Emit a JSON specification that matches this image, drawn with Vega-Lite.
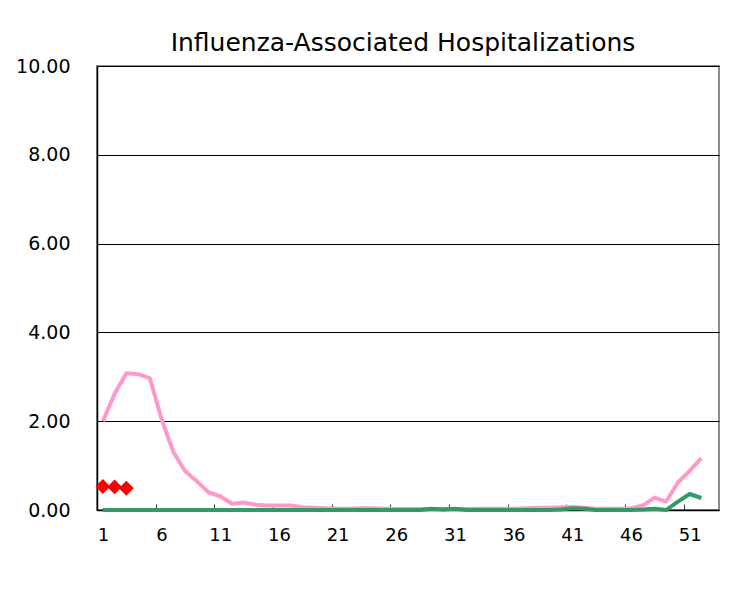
{
  "$schema": "https://vega.github.io/schema/vega-lite/v6.json",
  "width": 622,
  "height": 444,
  "autosize": "none",
  "padding": {"left": 97, "top": 66, "right": 29, "bottom": 81},
  "background": "white",
  "config": {
    "font": "DejaVu Sans",
    "view": {"stroke": "#8c8c8c", "strokeWidth": 2},
    "axis": {"labelFont": "DejaVu Sans", "labelColor": "#000000"}
  },
  "title": {
    "text": "Influenza-Associated Hospitalizations",
    "font": "DejaVu Sans",
    "fontSize": 25,
    "fontWeight": "normal",
    "color": "#000000",
    "anchor": "middle",
    "frame": "group",
    "offset": 1,
    "dx": -5
  },
  "data": {
    "values": [
      {"week": 1, "series": "pink", "value": 2.00},
      {"week": 2, "series": "pink", "value": 2.62},
      {"week": 3, "series": "pink", "value": 3.08},
      {"week": 4, "series": "pink", "value": 3.06},
      {"week": 5, "series": "pink", "value": 2.97},
      {"week": 6, "series": "pink", "value": 2.05},
      {"week": 7, "series": "pink", "value": 1.31},
      {"week": 8, "series": "pink", "value": 0.88},
      {"week": 9, "series": "pink", "value": 0.65},
      {"week": 10, "series": "pink", "value": 0.40},
      {"week": 11, "series": "pink", "value": 0.31},
      {"week": 12, "series": "pink", "value": 0.14},
      {"week": 13, "series": "pink", "value": 0.17},
      {"week": 14, "series": "pink", "value": 0.12},
      {"week": 15, "series": "pink", "value": 0.10},
      {"week": 16, "series": "pink", "value": 0.10},
      {"week": 17, "series": "pink", "value": 0.10},
      {"week": 18, "series": "pink", "value": 0.06},
      {"week": 19, "series": "pink", "value": 0.05},
      {"week": 20, "series": "pink", "value": 0.04},
      {"week": 21, "series": "pink", "value": 0.03},
      {"week": 22, "series": "pink", "value": 0.03},
      {"week": 23, "series": "pink", "value": 0.04},
      {"week": 24, "series": "pink", "value": 0.04},
      {"week": 25, "series": "pink", "value": 0.03},
      {"week": 26, "series": "pink", "value": 0.02},
      {"week": 27, "series": "pink", "value": 0.02},
      {"week": 28, "series": "pink", "value": 0.02},
      {"week": 29, "series": "pink", "value": 0.02},
      {"week": 30, "series": "pink", "value": 0.02},
      {"week": 31, "series": "pink", "value": 0.02},
      {"week": 32, "series": "pink", "value": 0.02},
      {"week": 33, "series": "pink", "value": 0.03},
      {"week": 34, "series": "pink", "value": 0.03},
      {"week": 35, "series": "pink", "value": 0.03},
      {"week": 36, "series": "pink", "value": 0.03},
      {"week": 37, "series": "pink", "value": 0.04},
      {"week": 38, "series": "pink", "value": 0.05},
      {"week": 39, "series": "pink", "value": 0.05},
      {"week": 40, "series": "pink", "value": 0.06},
      {"week": 41, "series": "pink", "value": 0.07},
      {"week": 42, "series": "pink", "value": 0.05},
      {"week": 43, "series": "pink", "value": 0.03},
      {"week": 44, "series": "pink", "value": 0.03},
      {"week": 45, "series": "pink", "value": 0.03},
      {"week": 46, "series": "pink", "value": 0.04},
      {"week": 47, "series": "pink", "value": 0.10},
      {"week": 48, "series": "pink", "value": 0.28},
      {"week": 49, "series": "pink", "value": 0.19},
      {"week": 50, "series": "pink", "value": 0.62},
      {"week": 51, "series": "pink", "value": 0.88},
      {"week": 52, "series": "pink", "value": 1.17},
      {"week": 1, "series": "green", "value": 0},
      {"week": 2, "series": "green", "value": 0},
      {"week": 3, "series": "green", "value": 0},
      {"week": 4, "series": "green", "value": 0},
      {"week": 5, "series": "green", "value": 0},
      {"week": 6, "series": "green", "value": 0},
      {"week": 7, "series": "green", "value": 0},
      {"week": 8, "series": "green", "value": 0},
      {"week": 9, "series": "green", "value": 0},
      {"week": 10, "series": "green", "value": 0},
      {"week": 11, "series": "green", "value": 0},
      {"week": 12, "series": "green", "value": 0},
      {"week": 13, "series": "green", "value": 0},
      {"week": 14, "series": "green", "value": 0},
      {"week": 15, "series": "green", "value": 0},
      {"week": 16, "series": "green", "value": 0},
      {"week": 17, "series": "green", "value": 0},
      {"week": 18, "series": "green", "value": 0},
      {"week": 19, "series": "green", "value": 0},
      {"week": 20, "series": "green", "value": 0},
      {"week": 21, "series": "green", "value": 0},
      {"week": 22, "series": "green", "value": 0},
      {"week": 23, "series": "green", "value": 0},
      {"week": 24, "series": "green", "value": 0},
      {"week": 25, "series": "green", "value": 0},
      {"week": 26, "series": "green", "value": 0},
      {"week": 27, "series": "green", "value": 0},
      {"week": 28, "series": "green", "value": 0},
      {"week": 29, "series": "green", "value": 0.03},
      {"week": 30, "series": "green", "value": 0.01},
      {"week": 31, "series": "green", "value": 0.03},
      {"week": 32, "series": "green", "value": 0},
      {"week": 33, "series": "green", "value": 0},
      {"week": 34, "series": "green", "value": 0},
      {"week": 35, "series": "green", "value": 0},
      {"week": 36, "series": "green", "value": 0},
      {"week": 37, "series": "green", "value": 0},
      {"week": 38, "series": "green", "value": 0},
      {"week": 39, "series": "green", "value": 0},
      {"week": 40, "series": "green", "value": 0.01},
      {"week": 41, "series": "green", "value": 0.04},
      {"week": 42, "series": "green", "value": 0.03},
      {"week": 43, "series": "green", "value": 0},
      {"week": 44, "series": "green", "value": 0},
      {"week": 45, "series": "green", "value": 0},
      {"week": 46, "series": "green", "value": 0},
      {"week": 47, "series": "green", "value": 0.01},
      {"week": 48, "series": "green", "value": 0.03},
      {"week": 49, "series": "green", "value": 0},
      {"week": 50, "series": "green", "value": 0.19},
      {"week": 51, "series": "green", "value": 0.36},
      {"week": 52, "series": "green", "value": 0.27},
      {"week": 1, "series": "red", "value": 0.53},
      {"week": 2, "series": "red", "value": 0.52},
      {"week": 3, "series": "red", "value": 0.49}
    ]
  },
  "encoding": {
    "x": {
      "field": "week",
      "type": "quantitative",
      "scale": {"domain": [0.5, 53.5], "nice": false, "zero": false},
      "axis": {
        "title": null,
        "values": [1, 6, 11, 16, 21, 26, 31, 36, 41, 46, 51],
        "format": "d",
        "grid": false,
        "domainColor": "#000000",
        "domainWidth": 1.5,
        "tickColor": "#333333",
        "tickSize": -6,
        "tickWidth": 1,
        "tickOffset": -5.87,
        "labelOffset": 5.87,
        "labelPadding": 22,
        "labelFontSize": 18,
        "labelFont": "DejaVu Sans",
        "labelColor": "#000000"
      }
    },
    "y": {
      "field": "value",
      "type": "quantitative",
      "scale": {"domain": [0, 10], "nice": false},
      "axis": {
        "title": null,
        "values": [0, 2, 4, 6, 8, 10],
        "format": ".2f",
        "grid": true,
        "gridColor": "#000000",
        "gridWidth": 1,
        "ticks": false,
        "domainColor": "#000000",
        "domainWidth": 1.5,
        "labelPadding": 27,
        "labelFontSize": 19,
        "labelFont": "DejaVu Sans",
        "labelColor": "#000000"
      }
    }
  },
  "layer": [
    {
      "transform": [{"filter": "datum.series === 'pink'"}],
      "mark": {"type": "line", "color": "#FF99CC", "strokeWidth": 4, "strokeJoin": "round"}
    },
    {
      "transform": [{"filter": "datum.series === 'green'"}],
      "mark": {"type": "line", "color": "#339966", "strokeWidth": 4, "strokeJoin": "round"}
    },
    {
      "transform": [{"filter": "datum.series === 'red'"}],
      "mark": {"type": "point", "shape": "diamond", "filled": true, "color": "#FF0000", "size": 220, "opacity": 1}
    }
  ]
}
